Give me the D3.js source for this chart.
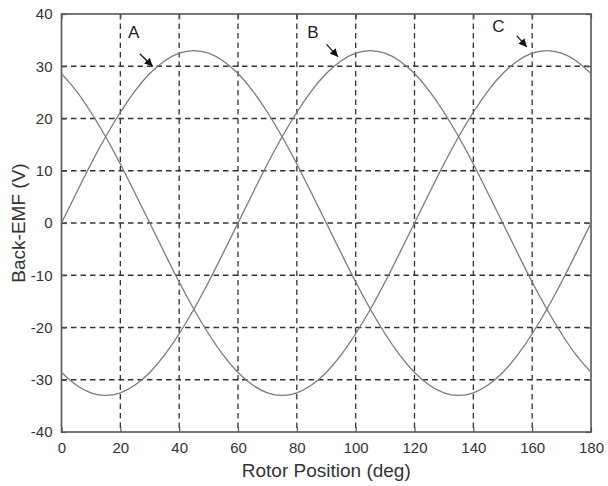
<!DOCTYPE html>
<html>
<head>
<meta charset="utf-8">
<script src="https://cdn.jsdelivr.net/npm/d3@7"></script>
<style>
body { margin: 0; background: white; }
text { font-family: "Liberation Sans", Arial, sans-serif; }
</style>
</head>
<body>
<div id="canvas"></div>
<script>
var width = 608;
var height = 486;

// rotor position samples (deg)
const positions = [0,5,10,15,20,25,30,35,40,45,50,55,60,65,70,75,80,85,90,
                   95,100,105,110,115,120,125,130,135,140,145,150,155,160,165,170,175,180];

// back-EMF readings (V)
const phaseA = [0,5.7,11.3,16.5,21.2,25.3,28.6,31.0,32.5,33,32.5,31.0,28.6,25.3,21.2,16.5,11.3,5.7,0,
                -5.7,-11.3,-16.5,-21.2,-25.3,-28.6,-31.0,-32.5,-33,-32.5,-31.0,-28.6,-25.3,-21.2,-16.5,-11.3,-5.7,0];
const phaseB = [-28.6,-31.0,-32.5,-33,-32.5,-31.0,-28.6,-25.3,-21.2,-16.5,-11.3,-5.7,
                0,5.7,11.3,16.5,21.2,25.3,28.6,31.0,32.5,33,32.5,31.0,28.6,25.3,21.2,16.5,11.3,5.7,0,
                -5.7,-11.3,-16.5,-21.2,-25.3,-28.6];
const phaseC = [28.6,25.3,21.2,16.5,11.3,5.7,0,-5.7,-11.3,-16.5,-21.2,-25.3,-28.6,
                -31.0,-32.5,-33,-32.5,-31.0,-28.6,-25.3,-21.2,-16.5,-11.3,-5.7,0,
                5.7,11.3,16.5,21.2,25.3,28.6,31.0,32.5,33,32.5,31.0,28.6];

const xTicks = [0,20,40,60,80,100,120,140,160,180];
const yTicks = [-40,-30,-20,-10,0,10,20,30,40];

// annotation labels: text position and arrow tip, in data units
const labels = ["A", "B", "C"];
const labelX = [24.5, 85.5, 148.5];
const labelY = [35.5, 35.5, 36.5];
const arrowFromX = [26.6, 90.1, 154.8];
const arrowFromY = [32.4, 34.2, 35.8];
const arrowToX = [31.0, 94.0, 158.2];
const arrowToY = [30.0, 31.8, 33.7];

var margin = {left: 61.5, right: 17, top: 14, bottom: 54};

var svg = d3.select("#canvas").append("svg")
    .attr("width", width)
    .attr("height", height)
    .style("background-color", "white");

const xScale = d3.scaleLinear()
    .domain([0, 180])
    .range([margin.left, width - margin.right]);

const yScale = d3.scaleLinear()
    .domain([-40, 40])
    .range([height - margin.bottom, margin.top]);

const x0 = xScale.range()[0], x1 = xScale.range()[1];
const yB = yScale.range()[0], yT = yScale.range()[1];

// dashed grid
svg.append("g").selectAll("line")
    .data(xTicks.slice(1, -1))
    .enter().append("line")
    .attr("x1", d => xScale(d)).attr("x2", d => xScale(d))
    .attr("y1", yT).attr("y2", yB)
    .style("stroke", "#333")
    .style("stroke-width", 1.3)
    .style("stroke-dasharray", "5.5,4");

svg.append("g").selectAll("line")
    .data(yTicks.slice(1, -1))
    .enter().append("line")
    .attr("x1", x0).attr("x2", x1)
    .attr("y1", d => yScale(d)).attr("y2", d => yScale(d))
    .style("stroke", "#333")
    .style("stroke-width", 1.3)
    .style("stroke-dasharray", "5.5,4");

// axes with inward ticks
const axisStyle = g => {
    g.select(".domain").remove();
    g.selectAll(".tick line").style("stroke", "#555").style("stroke-width", 1.2);
    g.selectAll(".tick text")
        .style("font-size", "15px")
        .style("fill", "#333")
        .style("font-family", "'Liberation Sans', Arial, sans-serif");
};

svg.append("g")
    .attr("transform", "translate(0," + yB + ")")
    .call(d3.axisBottom(xScale).tickValues(xTicks).tickFormat(d => String(d))
        .tickSizeInner(-5).tickSizeOuter(0).tickPadding(10))
    .call(axisStyle);

svg.append("g")
    .attr("transform", "translate(" + x0 + ",0)")
    .call(d3.axisLeft(yScale).tickValues(yTicks).tickFormat(d => String(d))
        .tickSizeInner(-5).tickSizeOuter(0).tickPadding(9))
    .call(axisStyle);

svg.append("g")
    .attr("transform", "translate(0," + yT + ")")
    .call(d3.axisTop(xScale).tickValues(xTicks).tickSizeInner(-5).tickSizeOuter(0).tickFormat(""))
    .call(axisStyle);

svg.append("g")
    .attr("transform", "translate(" + x1 + ",0)")
    .call(d3.axisRight(yScale).tickValues(yTicks).tickSizeInner(-5).tickSizeOuter(0).tickFormat(""))
    .call(axisStyle);

// frame
svg.append("rect")
    .attr("x", x0).attr("y", yT)
    .attr("width", x1 - x0).attr("height", yB - yT)
    .style("fill", "none")
    .style("stroke", "#555")
    .style("stroke-width", 1.6);

// curves
const line = d3.line()
    .x((d, i) => xScale(positions[i]))
    .y(d => yScale(d))
    .curve(d3.curveNatural);

[phaseA, phaseB, phaseC].forEach(s => {
    svg.append("path")
        .datum(s)
        .attr("d", line)
        .style("fill", "none")
        .style("stroke", "#7a7a7a")
        .style("stroke-width", 1.3);
});

// arrow annotations
svg.append("defs").append("marker")
    .attr("id", "arrow")
    .attr("viewBox", "0 0 10 10")
    .attr("refX", 10).attr("refY", 5)
    .attr("markerWidth", 9).attr("markerHeight", 8)
    .attr("markerUnits", "userSpaceOnUse")
    .attr("orient", "auto")
    .append("path")
    .attr("d", "M0,0 L10,5 L0,10 z")
    .style("fill", "#111");

labels.forEach((l, i) => {
    svg.append("text")
        .attr("x", xScale(labelX[i]))
        .attr("y", yScale(labelY[i]))
        .attr("text-anchor", "middle")
        .style("font-size", "17px")
        .style("fill", "#222")
        .text(l);
    svg.append("line")
        .attr("x1", xScale(arrowFromX[i])).attr("y1", yScale(arrowFromY[i]))
        .attr("x2", xScale(arrowToX[i])).attr("y2", yScale(arrowToY[i]))
        .style("stroke", "#111")
        .style("stroke-width", 1.2)
        .attr("marker-end", "url(#arrow)");
});

// axis titles
svg.append("text")
    .attr("x", (x0 + x1) / 2)
    .attr("y", 477)
    .attr("text-anchor", "middle")
    .style("font-size", "19px")
    .style("fill", "#333")
    .text("Rotor Position (deg)");

svg.append("text")
    .attr("transform", "translate(25," + ((yT + yB) / 2) + ") rotate(-90)")
    .attr("text-anchor", "middle")
    .style("font-size", "19px")
    .style("fill", "#333")
    .text("Back-EMF (V)");
</script>
</body>
</html>
